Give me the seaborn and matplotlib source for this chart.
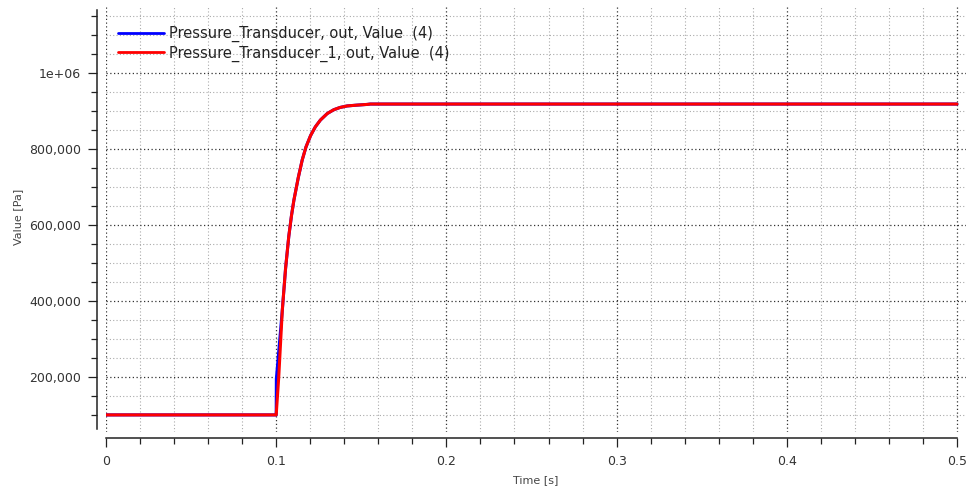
import pandas as pd
import matplotlib
matplotlib.use("Agg")
import matplotlib.pyplot as plt
from matplotlib.ticker import MultipleLocator, FuncFormatter
import seaborn as sns

# Datos
time_1 = [0.0, 0.1, 0.1001, 0.1036, 0.1055, 0.1074, 0.109, 0.1104, 0.113, 0.1153,
          0.1175, 0.1202, 0.123, 0.126, 0.13, 0.1338, 0.1375, 0.1417, 0.147, 0.1534,
          0.1553, 0.5]
value_1 = [100000, 100000, 195000, 376000, 485000, 570000, 625000, 665000, 725000, 771000,
           805000, 835000, 858000, 876000, 893000, 903000, 909000, 913000, 915000, 917000,
           918000, 918000]

time_2 = [0.0, 0.1, 0.1015, 0.1036, 0.1055, 0.1074, 0.109, 0.1104, 0.113, 0.1153,
          0.1175, 0.1202, 0.123, 0.126, 0.13, 0.1338, 0.1375, 0.1417, 0.147, 0.1534,
          0.1553, 0.5]
value_2 = [100000, 100000, 200000, 376000, 485000, 570000, 625000, 665000, 725000, 771000,
           805000, 835000, 858000, 876000, 893000, 903000, 909000, 913000, 915000, 917000,
           918000, 918000]

names = ["Pressure_Transducer, out, Value  (4)", "Pressure_Transducer_1, out, Value  (4)"]
colors = ["#0000ff", "#ff0000"]

df = pd.concat([
    pd.DataFrame({"t": time_1, "v": value_1, "serie": names[0]}),
    pd.DataFrame({"t": time_2, "v": value_2, "serie": names[1]}),
], ignore_index=True)

sns.set_style("white")
plt.rcParams["font.family"] = ["DejaVu Sans"]

fig = plt.figure(figsize=(9.8, 4.9), dpi=100)
ax = fig.add_axes([106 / 980, 1 - 432 / 490, (966 - 106) / 980, (432 - 6) / 490])

sns.lineplot(data=df, x="t", y="v", hue="serie", palette=colors, estimator=None,
             sort=False, linewidth=2.2, ax=ax)

ax.set_xlim(0, 0.5053)
ax.set_ylim(55000, 1176000)

ax.xaxis.set_major_locator(MultipleLocator(0.1))
ax.xaxis.set_minor_locator(MultipleLocator(0.02))
ax.yaxis.set_major_locator(MultipleLocator(200000))
ax.yaxis.set_minor_locator(MultipleLocator(50000))

def fmt_y(v, pos):
    if v >= 1e6:
        return "1e+06"
    return f"{int(round(v)):,}"

def fmt_x(v, pos):
    return "0" if abs(v) < 1e-9 else f"{v:.1f}"

ax.yaxis.set_major_formatter(FuncFormatter(fmt_y))
ax.xaxis.set_major_formatter(FuncFormatter(fmt_x))

# ejes separados del área de trazado (en puntos)
for s in ["top", "right"]:
    ax.spines[s].set_visible(False)
ax.spines["left"].set_position(("outward", 6.5))
ax.spines["bottom"].set_position(("outward", 4))
ax.spines["left"].set_bounds(63000, 1166000)
ax.spines["bottom"].set_bounds(0, 0.5)
for s in ["left", "bottom"]:
    ax.spines[s].set_color("#222222")
    ax.spines[s].set_linewidth(1.1)

ax.tick_params(bottom=True, left=True, which="both")
ax.tick_params(which="major", direction="out", length=6.5, width=0.9, color="#222222",
               labelsize=9, labelcolor="#333333")
ax.tick_params(which="minor", direction="out", length=4, width=0.9, color="#222222")
ax.tick_params(axis="x", which="major", pad=6)
ax.tick_params(axis="y", which="major", pad=5)

ax.grid(which="major", color="#333333", linestyle=(0, (1, 2)), linewidth=0.9)
ax.grid(which="minor", color="#aaaaaa", linestyle=(0, (1, 2)), linewidth=0.8)
ax.set_axisbelow(True)

ax.set_xlabel("Time [s]", fontsize=8, color="#444444", labelpad=5)
ax.set_ylabel("Value [Pa]", fontsize=8, color="#444444")
ax.yaxis.set_label_coords(-0.096, 0.505)

leg = ax.legend(loc="upper left", bbox_to_anchor=(0, 1 - 8 / 426), frameon=False,
                fontsize=10.5, handlelength=3.2, borderaxespad=0.4,
                labelspacing=0.25, handletextpad=0.35)
for line in leg.get_lines():
    line.set_linewidth(2)
for txt in leg.get_texts():
    txt.set_color("#222222")

fig.savefig("out.png", dpi=100)
